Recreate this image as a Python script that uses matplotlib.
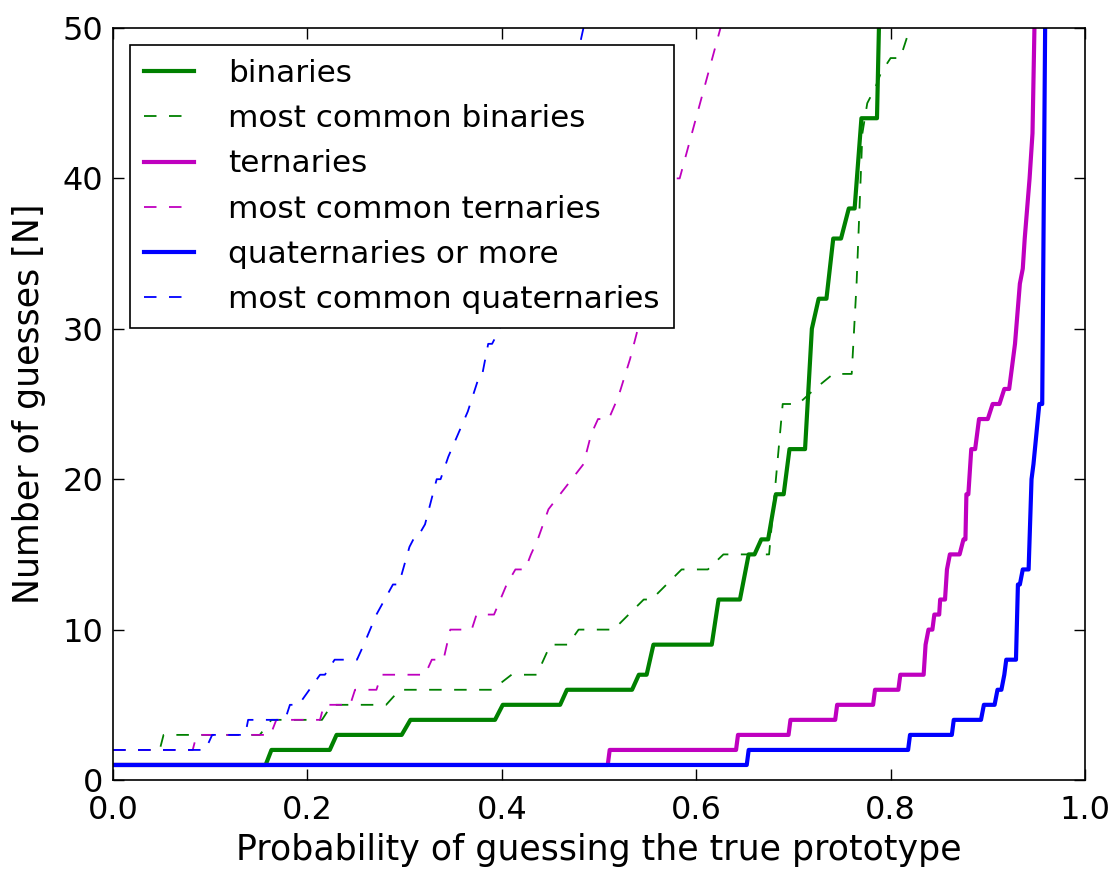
import matplotlib
matplotlib.use('Agg')
import matplotlib.pyplot as plt

# binaries
bin_p = [0, 0.157, 0.163, 0.223, 0.230, 0.297, 0.306, 0.393, 0.401, 0.460, 0.467, 0.534,
         0.541, 0.549, 0.556, 0.616, 0.623, 0.645, 0.654, 0.660, 0.667, 0.674, 0.682, 0.690,
         0.696, 0.712, 0.719, 0.726, 0.734, 0.741, 0.749, 0.757, 0.763, 0.770, 0.786, 0.788]
bin_n = [1, 1, 2, 2, 3, 3, 4, 4, 5, 5, 6, 6,
         7, 7, 9, 9, 12, 12, 15, 15, 16, 16, 19, 19,
         22, 22, 30, 32, 32, 36, 36, 38, 38, 44, 44, 50]

# most common binaries
mcbin_p = [0, 0.048, 0.052, 0.151, 0.163, 0.215, 0.225, 0.281, 0.295, 0.390, 0.410, 0.436,
           0.450, 0.468, 0.479, 0.515, 0.546, 0.554, 0.585, 0.612, 0.628, 0.675, 0.689, 0.705,
           0.722, 0.741, 0.760, 0.765, 0.771, 0.776, 0.784, 0.790, 0.800, 0.810, 0.820]
mcbin_n = [2, 2, 3, 3, 4, 4, 5, 5, 6, 6, 7, 7,
           9, 9, 10, 10, 12, 12, 14, 14, 15, 15, 25, 25,
           26, 27, 27, 33, 43, 45, 46, 47, 48, 48, 50]

# ternaries
ter_p = [0, 0.509, 0.511, 0.641, 0.643, 0.695, 0.697, 0.743, 0.745, 0.782, 0.784, 0.808,
         0.810, 0.834, 0.836, 0.839, 0.843, 0.845, 0.850, 0.851, 0.856, 0.858, 0.861, 0.871,
         0.875, 0.877, 0.878, 0.880, 0.883, 0.887, 0.889, 0.891, 0.900, 0.905, 0.912, 0.917,
         0.922, 0.928, 0.933, 0.936, 0.938, 0.943, 0.946, 0.948]
ter_n = [1, 1, 2, 2, 3, 3, 4, 4, 5, 5, 6, 6,
         7, 7, 9, 10, 10, 11, 11, 12, 12, 14, 15, 15,
         16, 16, 19, 19, 22, 22, 23, 24, 24, 25, 25, 26,
         26, 29, 33, 34, 36, 40, 43, 50]

# most common ternaries
mcter_p = [0, 0.082, 0.086, 0.162, 0.168, 0.213, 0.217, 0.244, 0.249, 0.271, 0.276, 0.321,
           0.328, 0.340, 0.347, 0.369, 0.374, 0.392, 0.405, 0.414, 0.424, 0.430, 0.437, 0.448,
           0.460, 0.472, 0.484, 0.492, 0.499, 0.510, 0.520, 0.532, 0.540, 0.560, 0.575, 0.583,
           0.625]
mcter_n = [2, 2, 3, 3, 4, 4, 5, 5, 6, 6, 7, 7,
           8, 8, 10, 10, 11, 11, 13, 14, 14, 15, 16, 18,
           19, 20, 21, 23, 24, 24, 25.5, 28, 30, 35, 40, 40,
           50]

# quaternaries or more
qua_p = [0, 0.652, 0.654, 0.818, 0.820, 0.863, 0.865, 0.893, 0.896, 0.907, 0.910, 0.914,
         0.917, 0.919, 0.929, 0.931, 0.933, 0.936, 0.942, 0.945, 0.947, 0.953, 0.956, 0.959]
qua_n = [1, 1, 2, 2, 3, 3, 4, 4, 5, 5, 6, 6,
         7, 8, 8, 13, 13, 14, 14, 20, 21, 25, 25, 50]

# most common quaternaries
mcqua_p = [0, 0.095, 0.102, 0.136, 0.139, 0.177, 0.182, 0.191, 0.213, 0.218, 0.228, 0.251,
           0.258, 0.271, 0.288, 0.294, 0.305, 0.309, 0.312, 0.321, 0.333, 0.337, 0.345, 0.355,
           0.365, 0.375, 0.378, 0.380, 0.386, 0.390, 0.398, 0.420, 0.450, 0.484]
mcqua_n = [2, 2, 3, 3, 4, 4, 5, 5, 7, 7, 8, 8,
           9, 11, 13, 13, 15.5, 16, 16, 17, 20, 20, 21.5, 23,
           24.5, 26.5, 27, 27, 29, 29, 30, 34, 40, 50]

plt.rcParams['font.family'] = 'DejaVu Sans'
plt.rcParams['lines.scale_dashes'] = False

fig = plt.figure(figsize=(11.19, 8.69), dpi=100)
ax = fig.add_axes([0.101, 0.1024, 0.8686, 0.8654])

dash = (0, (9, 9))
ax.plot(bin_p, bin_n, color='g', lw=3, label='binaries')
ax.plot(mcbin_p, mcbin_n, color='g', lw=1.3, linestyle=dash, label='most common binaries')
ax.plot(ter_p, ter_n, color='m', lw=3, label='ternaries')
ax.plot(mcter_p, mcter_n, color='m', lw=1.3, linestyle=dash, label='most common ternaries')
ax.plot(qua_p, qua_n, color='b', lw=3, label='quaternaries or more')
ax.plot(mcqua_p, mcqua_n, color='b', lw=1.3, linestyle=dash, label='most common quaternaries')

ax.set_xlim(0, 1)
ax.set_ylim(0, 50)
ax.set_xticks([0.0, 0.2, 0.4, 0.6, 0.8, 1.0])
ax.set_yticks([0, 10, 20, 30, 40, 50])
ax.tick_params(direction='in', top=True, right=True, length=8, width=1, labelsize=23)
ax.tick_params(axis='x', pad=11)
ax.tick_params(axis='y', pad=7)
for s in ax.spines.values():
    s.set_linewidth(1.2)

ax.set_xlabel('Probability of guessing the true prototype', fontsize=25, labelpad=5)
ax.set_ylabel('Number of guesses [N]', fontsize=25, labelpad=12)

leg = ax.legend(loc='upper left', fontsize=22.4, fancybox=False, framealpha=1,
                edgecolor='black', handlelength=1.6, handletextpad=1.1,
                borderaxespad=0.55, labelspacing=0.52, borderpad=0.45)
leg.get_frame().set_linewidth(1.2)

fig.savefig('out.png', dpi=100, facecolor='white')
